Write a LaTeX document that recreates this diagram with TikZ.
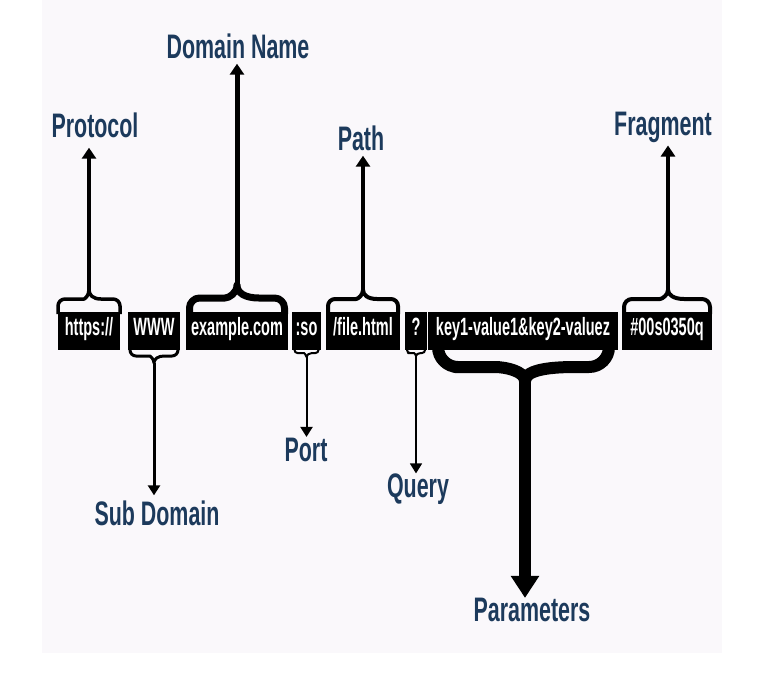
\documentclass[tikz,border=0pt]{standalone}
\usepackage{fontspec}
\newfontfamily\lbl[FakeStretch=0.63]{Liberation Sans}
\newfontfamily\boxfont[FakeStretch=0.58]{Liberation Sans}
\usetikzlibrary{arrows.meta}
\definecolor{navy}{RGB}{28,58,92}
\definecolor{panel}{RGB}{250,248,251}
\begin{document}
\begin{tikzpicture}[x=1pt,y=-1pt,
  urlbox/.style={fill=black,text=white,font=\boxfont\bfseries\fontsize{25}{26}\selectfont,
    minimum height=38pt,inner sep=0pt,text height=13pt,text depth=5pt},
  lbltext/.style={text=navy,font=\lbl\bfseries\fontsize{34}{36}\selectfont,inner sep=0pt},
  brace/.style={draw=black,line join=round,line cap=butt},
  arrA/.style={-{Triangle[width=14pt,length=11pt]},line width=3.5pt},
  arrB/.style={-{Triangle[width=12pt,length=10pt]},line width=2pt},
  arrC/.style={-{Triangle[width=27pt,length=22pt]},line width=12pt}]
\useasboundingbox (0,0) rectangle (767,686);
\fill[white] (0,0) rectangle (767,686);
\fill[panel] (42,0) rectangle (722,653);

% URL parts
\node[urlbox,minimum width=62pt]  (proto) at (89,331)    {https://};
\node[urlbox,minimum width=52pt]  (sub)   at (154,331)   {WWW};
\node[urlbox,minimum width=102pt] (dom)   at (237,331)   {example.com};
\node[urlbox,minimum width=29pt]  (port)  at (306.5,331) {:so};
\node[urlbox,minimum width=74pt]  (path)  at (363,331)   {/file.html};
\node[urlbox,minimum width=22pt]  (qry)   at (416,331)   {?};
\node[urlbox,minimum width=190pt] (par)   at (523,331)   {key1-value1\&key2-valuez};
\node[urlbox,minimum width=90pt]  (frag)  at (667,331)   {\#00s0350q};

% labels
\node[lbltext] (protoL) at (95,125)  {Protocol};
\node[lbltext] (domL)   at (238,46)  {Domain Name};
\node[lbltext] (pathL)  at (361,138) {Path};
\node[lbltext] (fragL)  at (663,127) {Fragment};
\node[lbltext] (subL)   at (157,513) {Sub Domain};
\node[lbltext] (portL)  at (306,450) {Port};
\node[lbltext] (qryL)   at (418,489) {Query};
\node[lbltext] (parL)   at (532,610) {Parameters};

% braces above
\draw[brace,line width=3.5pt,rounded corners=7pt] (58,314) -- (58,299) -- (77,299)
  [sharp corners] .. controls (85,299) and (89,295) .. (89,290) coordinate (protoT)
  .. controls (89,295) and (93,299) .. (101,299) [rounded corners=7pt] -- (120,299) -- (120,314);
\draw[brace,line width=7pt,rounded corners=10pt] (189.5,314) -- (189.5,298) -- (215,298)
  [sharp corners] .. controls (229,298) and (237,293) .. (237,285) coordinate (domT)
  .. controls (237,293) and (245,298) .. (259,298) [rounded corners=10pt] -- (284.5,298) -- (284.5,314);
\draw[brace,line width=4pt,rounded corners=7pt] (328,314) -- (328,299) -- (349,299)
  [sharp corners] .. controls (358,299) and (363,295) .. (363,290) coordinate (pathT)
  .. controls (363,295) and (368,299) .. (377,299) [rounded corners=7pt] -- (398,299) -- (398,314);
\draw[brace,line width=4pt,rounded corners=8pt] (624,314) -- (624,299) -- (652,299)
  [sharp corners] .. controls (662,299) and (668,295) .. (668,290) coordinate (fragT)
  .. controls (668,295) and (674,299) .. (684,299) [rounded corners=8pt] -- (710,299) -- (710,314);

% braces below
\draw[brace,line width=3pt,rounded corners=6pt] (130,348) -- (130,356) -- (144,356)
  [sharp corners] .. controls (150,356) and (154,359) .. (154,363) coordinate (subT)
  .. controls (154,359) and (158,356) .. (164,356) [rounded corners=6pt] -- (178,356) -- (178,348);
\draw[brace,line width=2pt,rounded corners=3pt] (294.5,348) -- (294.5,353) -- (301,353)
  [sharp corners] .. controls (304,353) and (306.5,355) .. (306.5,357) coordinate (portT)
  .. controls (306.5,355) and (309,353) .. (312,353) [rounded corners=3pt] -- (318.5,353) -- (318.5,348);
\draw[brace,line width=2pt,rounded corners=3pt] (407,348) -- (407,353) -- (411,353)
  [sharp corners] .. controls (414,353) and (416,354.5) .. (416,356) coordinate (qryT)
  .. controls (416,354.5) and (418,353) .. (421,353) [rounded corners=3pt] -- (425,353) -- (425,348);
\draw[brace,line width=12pt,rounded corners=20pt] (438,346) -- (438,367) -- (475,367)
  [sharp corners] .. controls (505,367) and (525,371) .. (525,381) coordinate (parT)
  .. controls (525,371) and (545,367) .. (575,367) [rounded corners=20pt] -- (609,367) -- (609,346);

% arrows
\draw[arrA,shorten >=10pt] (protoT) -- (protoT |- protoL.south);
\draw[arrA,line width=5pt,shorten >=5pt] (domT) -- (domT |- domL.south);
\draw[arrA,line width=4pt,shorten >=5pt] (pathT) -- (pathT |- pathL.south);
\draw[arrA,line width=4pt,shorten >=3pt] (fragT) -- (fragT |- fragL.south);
\draw[arrB,line width=3pt,shorten >=5pt] (subT) -- (subT |- subL.north);
\draw[arrB,shorten >=1pt] (portT) -- (portT |- portL.north);
\draw[arrB,line width=1.5pt] (qryT) -- (qryT |- qryL.north);
\draw[arrC] (parT) -- (parT |- parL.north);
\end{tikzpicture}
\end{document}
